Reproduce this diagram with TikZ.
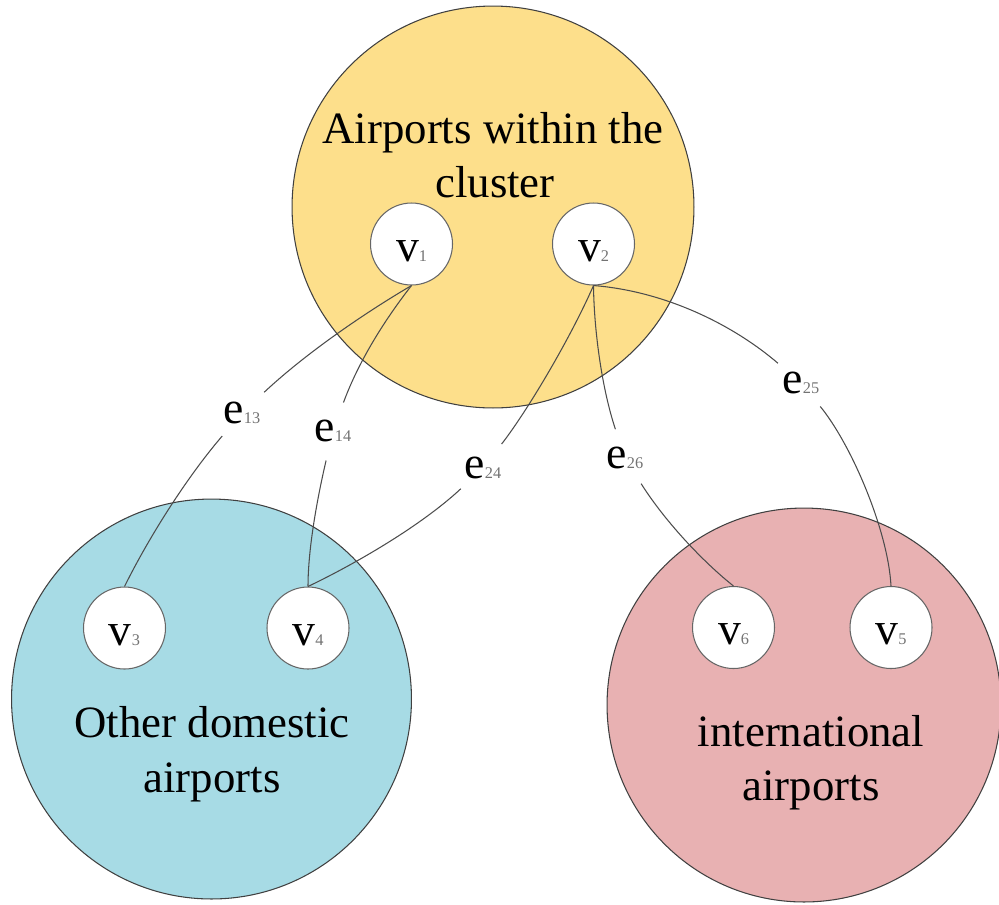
\documentclass[tikz,border=0pt]{standalone}
\usepackage{fontspec}
\setmainfont{Liberation Serif}
\definecolor{clusterfill}{HTML}{FDDF8B}
\definecolor{domesticfill}{HTML}{A7DBE5}
\definecolor{intlfill}{HTML}{E8B1B2}
\newcommand\idx[1]{\textcolor{black!55}{\fontsize{9.3}{9.3}\selectfont #1}}
\begin{document}
\begin{tikzpicture}[x=0.02cm, y=-0.02cm,
  cluster/.style={circle, draw=black!75, line width=0.6pt, inner sep=0pt},
  vertex/.style={circle, draw=black!60, fill=white, line width=0.6pt,
    minimum size=1.64cm, inner sep=0pt,
    font=\fontsize{26}{26}\selectfont, text height=19.4pt, text depth=0pt},
  elabel/.style={circle, minimum size=1.2cm, inner sep=0pt,
    font=\fontsize{26}{26}\selectfont},
  caption/.style={font=\fontsize{25.5}{30}\selectfont, anchor=base, inner sep=0pt},
  link/.style={draw=black!70, line width=0.6pt}
]
\useasboundingbox (0,0) rectangle (999,904);

% groups of airports
\node[cluster, fill=clusterfill,  minimum size=8.04cm] (gA) at (493,207) {};
\node[cluster, fill=domesticfill, minimum size=8.00cm] (gB) at (211.5,699) {};
\node[cluster, fill=intlfill,     minimum size=7.88cm] (gC) at (804,705) {};

% group captions
\node[caption] (tA1) at (493,143) {Airports within the};
\node[caption] (tA2) at (495,197) {cluster};
\node[caption] (tB1) at (212,737) {Other domestic};
\node[caption] (tB2) at (212,792) {airports};
\node[caption] (tC1) at (811,746) {international};
\node[caption] (tC2) at (811,800) {airports};

% airports
\node[vertex] (v1) at (411.5,244) {v\idx{1}};
\node[vertex] (v2) at (593.5,244) {v\idx{2}};
\node[vertex] (v3) at (124.5,628) {v\idx{3}};
\node[vertex] (v4) at (308,628)   {v\idx{4}};
\node[vertex] (v6) at (733.5,627.5) {v\idx{6}};
\node[vertex] (v5) at (891,627.5) {v\idx{5}};

% edge labels
\node[elabel] (e13) at (242,413) {e\idx{13}};
\node[elabel] (e14) at (333,431) {e\idx{14}};
\node[elabel] (e24) at (483,468) {e\idx{24}};
\node[elabel] (e26) at (625,458) {e\idx{26}};
\node[elabel] (e25) at (801,383) {e\idx{25}};

% routes
\draw[link] (v1.south) .. controls (363,314) and (305,354) .. (e13);
\draw[link] (e13) .. controls (187,477) and (149,537) .. (v3.north);

\draw[link] (v1.south) .. controls (383,322) and (358,363) .. (e14);
\draw[link] (e14) .. controls (318,495) and (308,547) .. (v4.north);

\draw[link] (v2.south) .. controls (571,337) and (528,410) .. (e24);
\draw[link] (e24) .. controls (422,525) and (357,563) .. (v4.north);

\draw[link] (v2.south) .. controls (594,331) and (602,389) .. (e26);
\draw[link] (e26) .. controls (664,520) and (702,561) .. (v6.north);

\draw[link] (v2.south) .. controls (663,291) and (731,323) .. (e25);
\draw[link] (e25) .. controls (851,444) and (888,530) .. (v5.north);
\end{tikzpicture}
\end{document}
